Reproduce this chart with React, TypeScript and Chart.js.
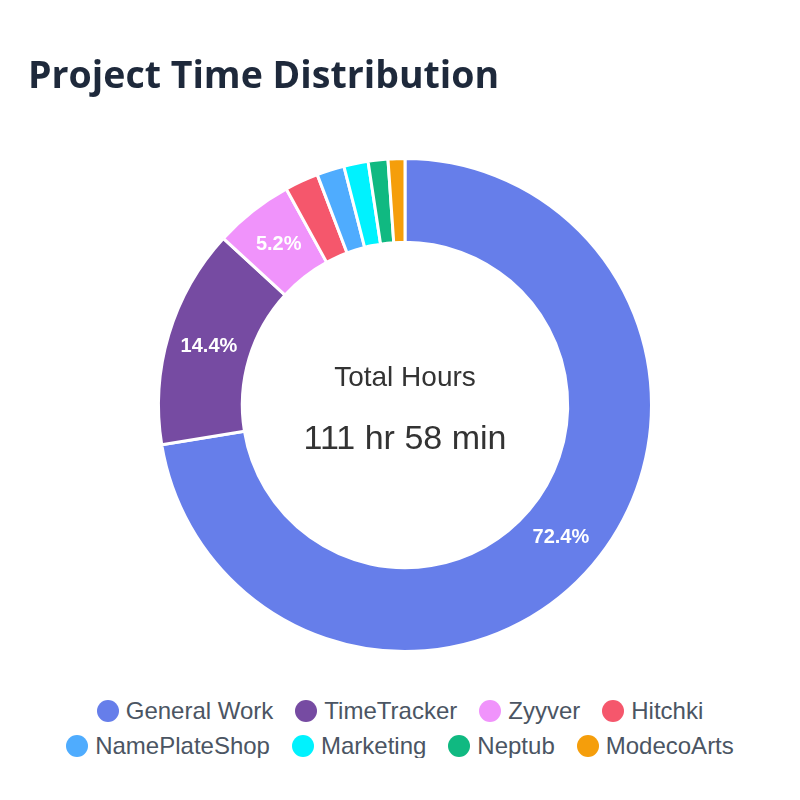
import { useEffect, useRef } from 'react';
import Chart from 'chart.js/auto';

const projects = [
  'General Work', 'TimeTracker', 'Zyyver', 'Hitchki',
  'NamePlateShop', 'Marketing', 'Neptub', 'ModecoArts',
];
// minutes logged per project
const minutes = [4865, 967, 349, 148, 121, 107, 87, 74];
const colors = [
  '#667eea', '#764ba2', '#f093fb', '#f5576c',
  '#4facfe', '#00f2fe', '#10b981', '#f59e0b',
];

const formatTotal = (mins: number) => `${Math.floor(mins / 60)} hr ${mins % 60} min`;

// percentage labels on the bigger slices
const sliceLabels = {
  id: 'sliceLabels',
  afterDatasetsDraw(chart: any) {
    const { ctx } = chart;
    const meta = chart.getDatasetMeta(0);
    const data = chart.data.datasets[0].data as number[];
    const total = data.reduce((a, b) => a + b, 0);
    ctx.save();
    ctx.fillStyle = '#ffffff';
    ctx.font = 'bold 20px "Liberation Sans", Arial, sans-serif';
    ctx.textAlign = 'center';
    ctx.textBaseline = 'middle';
    meta.data.forEach((arc: any, i: number) => {
      const pct = (data[i] / total) * 100;
      if (pct < 5) return;
      const pos = arc.tooltipPosition();
      ctx.fillText(`${pct.toFixed(1)}%`, pos.x, pos.y);
    });
    ctx.restore();
  },
};

const centerText = {
  id: 'centerText',
  afterDraw(chart: any) {
    const { ctx } = chart;
    const meta = chart.getDatasetMeta(0);
    if (!meta.data.length) return;
    const { x, y } = meta.data[0];
    const data = chart.data.datasets[0].data as number[];
    const total = data.reduce((a, b) => a + b, 0);
    ctx.save();
    ctx.fillStyle = '#333333';
    ctx.textAlign = 'center';
    ctx.textBaseline = 'middle';
    ctx.font = '28px "Liberation Sans", Arial, sans-serif';
    ctx.fillText('Total Hours', x, y - 27);
    ctx.font = '34px "Liberation Sans", Arial, sans-serif';
    ctx.fillText(formatTotal(total), x, y + 35);
    ctx.restore();
  },
};

export default function App() {
  const canvasRef = useRef<HTMLCanvasElement | null>(null);
  const chartRef = useRef<Chart | null>(null);

  useEffect(() => {
    if (!canvasRef.current) return;
    if (chartRef.current) chartRef.current.destroy();

    chartRef.current = new Chart(canvasRef.current, {
      type: 'doughnut',
      data: {
        labels: projects,
        datasets: [{
          data: minutes,
          backgroundColor: colors,
          borderColor: '#ffffff',
          borderWidth: 3,
        }],
      },
      options: {
        animation: false,
        responsive: true,
        maintainAspectRatio: false,
        cutout: '66%',
        layout: { padding: { left: 20, right: 10, top: 47, bottom: 5 } },
        plugins: {
          title: {
            display: true,
            text: 'Project Time Distribution',
            align: 'start',
            color: '#1e293b',
            font: { family: '"Open Sans", "Noto Sans", sans-serif', size: 37.5, weight: 'bold' },
            padding: { top: 0, bottom: 57 },
          },
          legend: { display: false },
          tooltip: { enabled: false },
        },
      },
      plugins: [sliceLabels, centerText],
    });

    return () => {
      if (chartRef.current) {
        chartRef.current.destroy();
        chartRef.current = null;
      }
    };
  }, []);

  return (
    <div style={{ width: 784, background: '#fff' }}>
      <div style={{ width: 784, height: 650 }}>
        <canvas ref={canvasRef} />
      </div>
      <div
        style={{
          display: 'flex',
          flexWrap: 'wrap',
          justifyContent: 'center',
          columnGap: 22,
          rowGap: 11,
          marginTop: 41,
          fontFamily: '"Liberation Sans", Arial, sans-serif',
          fontSize: 24,
          lineHeight: '24px',
          color: '#4b5563',
        }}
      >
        {projects.map((name, i) => (
          <div key={name} style={{ display: 'flex', alignItems: 'center' }}>
            <span
              style={{
                width: 22,
                height: 22,
                borderRadius: '50%',
                background: colors[i],
                marginRight: 7,
                display: 'inline-block',
              }}
            />
            <span>{name}</span>
          </div>
        ))}
      </div>
    </div>
  );
}
